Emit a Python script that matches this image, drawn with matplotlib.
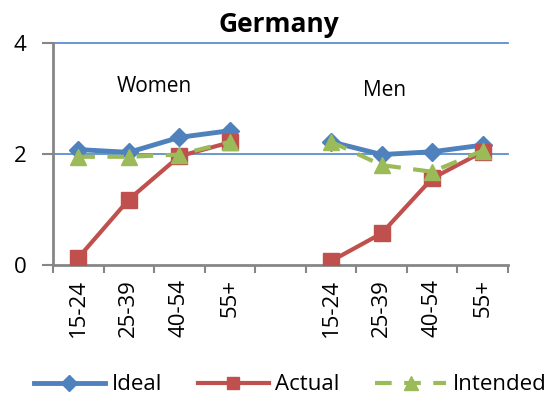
import numpy as np
import matplotlib
matplotlib.use("Agg")
import matplotlib.pyplot as plt
from matplotlib.ticker import FixedLocator

plt.rcParams['font.family'] = ['Open Sans', 'DejaVu Sans']

title = "Germany"
age_groups = ["15-24", "25-39", "40-54", "55+"]
groups = ["Women", "Men"]

women_ideal = [2.08, 2.03, 2.30, 2.42]
women_actual = [0.13, 1.18, 1.96, 2.21]
women_intended = [1.95, 1.95, 1.99, 2.22]

men_ideal = [2.22, 1.99, 2.04, 2.16]
men_actual = [0.07, 0.57, 1.56, 2.04]
men_intended = [2.22, 1.80, 1.68, 2.06]

blue = "#4F81BD"
red = "#C0504D"
green = "#9BBB59"
axis_grey = "#868686"
grid_blue = "#5B8FD0"

# Category layout: four women groups, one empty slot, four men groups
labels = age_groups + [""] + age_groups
x = np.arange(len(labels))


def joined(w, m):
    return np.array(list(w) + [np.nan] + list(m), dtype=float)


fig = plt.figure(figsize=(5.53, 4.03), dpi=100)
ax = fig.add_axes([0.0958, 0.3424, 0.8228, 0.5509])

ax.plot(x, joined(women_ideal, men_ideal), color=blue, lw=3.5,
        marker="D", ms=9, label="Ideal", zorder=3)
ax.plot(x, joined(women_actual, men_actual), color=red, lw=3,
        marker="s", ms=11, label="Actual", zorder=4)
ax.plot(x, joined(women_intended, men_intended), color=green, lw=3,
        dashes=(4, 3), marker="^", ms=12, label="Intended", zorder=5)

ax.set_xlim(-0.5, len(labels) - 0.5)
ax.set_ylim(0, 4)
ax.set_yticks([0, 2, 4])
ax.set_yticklabels(["0", "2", "4"], fontsize=16)
for gy in (2, 4):
    ax.axhline(gy, color=grid_blue, lw=1.3, zorder=1, clip_on=False)

ax.set_xticks(x)
ax.set_xticklabels(labels, rotation=90, fontsize=16)
ax.xaxis.set_minor_locator(FixedLocator(np.arange(-0.5, len(labels), 1.0)))
ax.tick_params(axis="x", which="major", length=0, pad=10)
ax.tick_params(axis="x", which="minor", length=6, width=1.5, color=axis_grey)
ax.tick_params(axis="y", length=8, width=1.5, color=axis_grey, pad=11)

for side in ("top", "right"):
    ax.spines[side].set_visible(False)
for side in ("left", "bottom"):
    ax.spines[side].set_color(axis_grey)
    ax.spines[side].set_linewidth(2)

ax.text(1.5, 3.22, groups[0], fontsize=15, ha="center", va="center")
ax.text(6.05, 3.15, groups[1], fontsize=15, ha="center", va="center")

fig.text(0.505, 0.94, title, fontsize=19, fontweight="bold",
         ha="center", va="center")

fig.legend(loc="center", bbox_to_anchor=(0.525, 0.045), ncol=3, frameon=False,
           fontsize=16, handlelength=3.2, columnspacing=1.6, handletextpad=0.3,
           markerscale=0.85)

fig.savefig("out.png", dpi=100)
